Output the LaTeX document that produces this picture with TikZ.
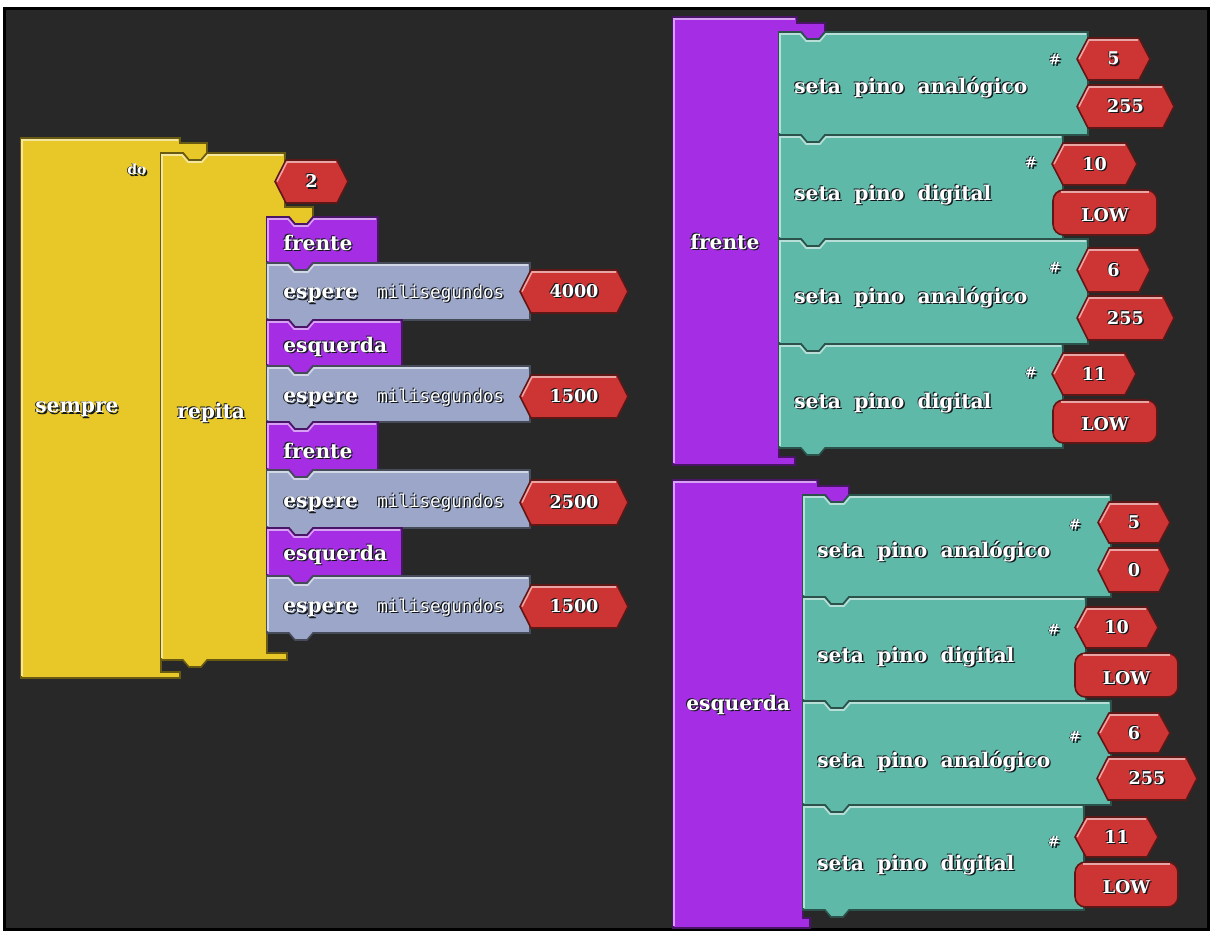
\documentclass[tikz,border=0pt]{standalone}
\usepackage{fontspec}
\setmainfont{DejaVu Serif}[WordSpace=1.9]
\newfontfamily\monofont{DejaVu Sans Mono}
\usepackage{tikz}
\definecolor{bkyellow}{RGB}{232,200,40}
\definecolor{bkpurple}{RGB}{165,45,228}
\definecolor{bkgrey}{RGB}{155,166,200}
\definecolor{bkteal}{RGB}{95,185,168}
\definecolor{bkred}{RGB}{205,52,52}
\definecolor{panelbg}{RGB}{40,40,40}
\definecolor{txtshade}{RGB}{20,25,30}

% white text with a dark shadow, like the block labels
\newcommand{\sh}[1]{\makebox[0pt][l]{\raisebox{-0.8pt}{\hspace{0.8pt}\textcolor{txtshade}{#1}}}\makebox[0pt][l]{\raisebox{0.4pt}{\hspace{-0.5pt}\textcolor{txtshade}{#1}}}#1}

% statement block: colour, x, y, width, height (pixels, y downwards)
\newcommand{\stmt}[5]{%
  \filldraw[fill=#1,draw=#1!45!black,line width=0.9pt] (#2,#3) -- (#2+22,#3) -- ++(6,7) -- ++(12,0) -- ++(6,-7) -- (#2+#4,#3)
    -- (#2+#4,#3+#5) -- (#2+46,#3+#5) -- ++(-6,7) -- ++(-12,0) -- ++(-6,-7) -- (#2,#3+#5) -- cycle;
  \draw[#1!45!white,line width=0.9pt] (#2+1,#3+#5-2) -- (#2+1,#3+2) -- (#2+21,#3+2) -- ++(6,7) -- ++(14,0) -- ++(6,-7) -- (#2+#4-2,#3+2);
}
% red number input: name, x1, y1, x2, y2, text
\newcommand{\valhex}[6]{%
  \filldraw[fill=bkred,draw=bkred!45!black,line width=0.9pt] (#2,{(#3+#5)/2}) -- (#2+11,#3) -- (#4-11,#3) -- (#4,{(#3+#5)/2}) -- (#4-11,#5) -- (#2+11,#5) -- cycle;
  \draw[bkred!45!white,line width=0.9pt] (#2+2,{(#3+#5)/2}) -- (#2+12,#3+2) -- (#4-12,#3+2);
  \node[val] (#1) at ({(#2+#4)/2},{(#3+#5)/2}) {\sh{#6}};
}
% red LOW/HIGH input
\newcommand{\valpill}[6]{%
  \filldraw[fill=bkred,draw=bkred!45!black,line width=0.9pt,rounded corners=6pt] (#2,#3) rectangle (#4,#5);
  \draw[bkred!45!white,line width=0.9pt] (#2+8,#3+2) -- (#4-8,#3+2);
  \node[val] (#1) at ({(#2+#4)/2},{(#3+#5)/2+3}) {\sh{#6}};
}

\begin{document}
\begin{tikzpicture}[x=0.02cm,y=-0.02cm,
    lbl/.style={text=white,font=\fontsize{11.5}{11.5}\selectfont\bfseries,inner sep=0,anchor=west},
    val/.style={text=white,font=\fontsize{10}{10}\selectfont\bfseries,inner sep=0},
    tiny/.style={text=white,font=\fontsize{8}{8}\selectfont\bfseries,inner sep=0},
    mili/.style={text=white,font=\monofont\fontsize{10}{10}\selectfont,inner sep=0,anchor=west}]
  \useasboundingbox (0,0) rectangle (1212,931);
  \fill[white] (0,0) rectangle (1212,931);
  \fill[black] (3,7) rectangle (1210,931);
  \fill[panelbg] (6,10) rectangle (1207,928);

  % sempre / repita
  \filldraw[fill=bkyellow,draw=bkyellow!45!black,line width=0.9pt] (21,138) -- (180,138) -- (180,143) -- (207,143) -- (207,153)
    -- ++(-6,7) -- ++(-12,0) -- ++(-6,-7) -- (161,153) -- (161,672) -- (180,672) -- (180,678) -- (21,678) -- cycle;
  \draw[bkyellow!45!white,line width=0.9pt] (22,676) -- (22,140) -- (178,140);
  \filldraw[fill=bkyellow,draw=bkyellow!45!black,line width=0.9pt] (161,153) -- (183,153) -- ++(6,7) -- ++(12,0) -- ++(6,-7) -- (285,153)
    -- (285,207) -- (313,207) -- (313,217) -- ++(-6,7) -- ++(-12,0) -- ++(-6,-7) -- (267,217) -- (267,653) -- (287,653) -- (287,660)
    -- (207,660) -- ++(-6,7) -- ++(-12,0) -- ++(-6,-7) -- (161,660) -- cycle;
  \draw[bkyellow!45!white,line width=0.9pt] (162,658) -- (162,155) -- (182,155) -- ++(6,7) -- ++(14,0) -- ++(6,-7) -- (283,155);

  \stmt{bkpurple}{267}{217}{111}{46}
  \stmt{bkgrey}{267}{263}{263}{57}
  \stmt{bkpurple}{267}{320}{135}{46}
  \stmt{bkgrey}{267}{366}{263}{56}
  \stmt{bkpurple}{267}{422}{111}{48}
  \stmt{bkgrey}{267}{470}{263}{58}
  \stmt{bkpurple}{267}{528}{135}{48}
  \stmt{bkgrey}{267}{576}{263}{57}

  \valhex{vrep}{275}{160}{348}{203}{2}
  \valhex{vwa}{520}{270}{628}{313}{4000}
  \valhex{vwb}{520}{375}{628}{418}{1500}
  \valhex{vwc}{520}{480}{628}{525}{2500}
  \valhex{vwd}{520}{585}{628}{628}{1500}

  \node[tiny] (ldo) at (137,170) {\sh{do}};
  \node[lbl] (lsempre) at (35,410) {\sh{sempre}};
  \node[lbl] (lrepita) at (177,413) {\sh{repita}};
  \foreach \n/\y/\t in {lfa/243/frente,lesa/347/esquerda,lfb/451/frente,lesb/555/esquerda}
    \node[lbl] (\n) at (283,\y) {\sh{\t}};
  \foreach \n/\y in {lwa/296,lwb/400,lwc/505,lwd/610} {
    \node[lbl] (\n) at (283,\y) {\sh{espere}};
    \node[mili] (\n m) at (377,\y-2) {\sh{milisegundos}};
  }

  % procedure frente
  \filldraw[fill=bkpurple,draw=bkpurple!45!black,line width=0.9pt] (673,17) -- (797,17) -- (797,23) -- (825,23) -- (825,32)
    -- ++(-6,7) -- ++(-12,0) -- ++(-6,-7) -- (779,32) -- (779,457) -- (795,457) -- (795,465) -- (673,465) -- cycle;
  \draw[bkpurple!45!white,line width=0.9pt] (674,463) -- (674,19) -- (795,19);
  \stmt{bkteal}{779}{32}{309}{103}
  \stmt{bkteal}{779}{135}{284}{104}
  \stmt{bkteal}{779}{239}{309}{105}
  \stmt{bkteal}{779}{344}{284}{104}
  \valhex{fpa}{1077}{38}{1150}{80}{5}
  \valhex{fva}{1077}{85}{1174}{128}{255}
  \valhex{fpb}{1052}{143}{1137}{185}{10}
  \valpill{fvb}{1053}{190}{1157}{235}{LOW}
  \valhex{fpc}{1077}{248}{1150}{292}{6}
  \valhex{fvc}{1077}{296}{1174}{340}{255}
  \valhex{fpd}{1052}{353}{1136}{395}{11}
  \valpill{fvd}{1053}{400}{1157}{443}{LOW}
  \node[lbl] (lfrente) at (690,242) {\sh{frente}};
  \foreach \n/\y/\t in {fta/88/seta pino analógico,ftb/195/seta pino digital,ftc/298/seta pino analógico,ftd/403/seta pino digital}
    \node[lbl] (\n) at (794,\y) {\sh{\t}};
  \foreach \n/\x/\y in {fha/1055/60,fhb/1031/163,fhc/1055/268,fhd/1031/373}
    \node[tiny] (\n) at (\x,\y) {\sh{\#}};

  % procedure esquerda
  \filldraw[fill=bkpurple,draw=bkpurple!45!black,line width=0.9pt] (673,480) -- (818,480) -- (818,486) -- (849,486) -- (849,495)
    -- ++(-6,7) -- ++(-12,0) -- ++(-6,-7) -- (803,495) -- (803,918) -- (810,918) -- (810,928) -- (673,928) -- cycle;
  \draw[bkpurple!45!white,line width=0.9pt] (674,926) -- (674,482) -- (816,482);
  \stmt{bkteal}{803}{495}{308}{102}
  \stmt{bkteal}{803}{597}{283}{104}
  \stmt{bkteal}{803}{701}{308}{104}
  \stmt{bkteal}{803}{805}{281}{105}
  \valhex{epa}{1098}{502}{1170}{543}{5}
  \valhex{eva}{1098}{548}{1170}{592}{0}
  \valhex{epb}{1075}{607}{1158}{648}{10}
  \valpill{evb}{1075}{653}{1178}{697}{LOW}
  \valhex{epc}{1098}{713}{1170}{753}{6}
  \valhex{evc}{1097}{757}{1197}{800}{255}
  \valhex{epd}{1075}{817}{1158}{857}{11}
  \valpill{evd}{1075}{862}{1178}{907}{LOW}
  \node[lbl] (lesquerda) at (686,705) {\sh{esquerda}};
  \foreach \n/\y/\t in {eta/552/seta pino analógico,etb/657/seta pino digital,etc/762/seta pino analógico,etd/865/seta pino digital}
    \node[lbl] (\n) at (817,\y) {\sh{\t}};
  \foreach \n/\x/\y in {eha/1075/525,ehb/1054/630,ehc/1075/737,ehd/1054/842}
    \node[tiny] (\n) at (\x,\y) {\sh{\#}};
\end{tikzpicture}
\end{document}
